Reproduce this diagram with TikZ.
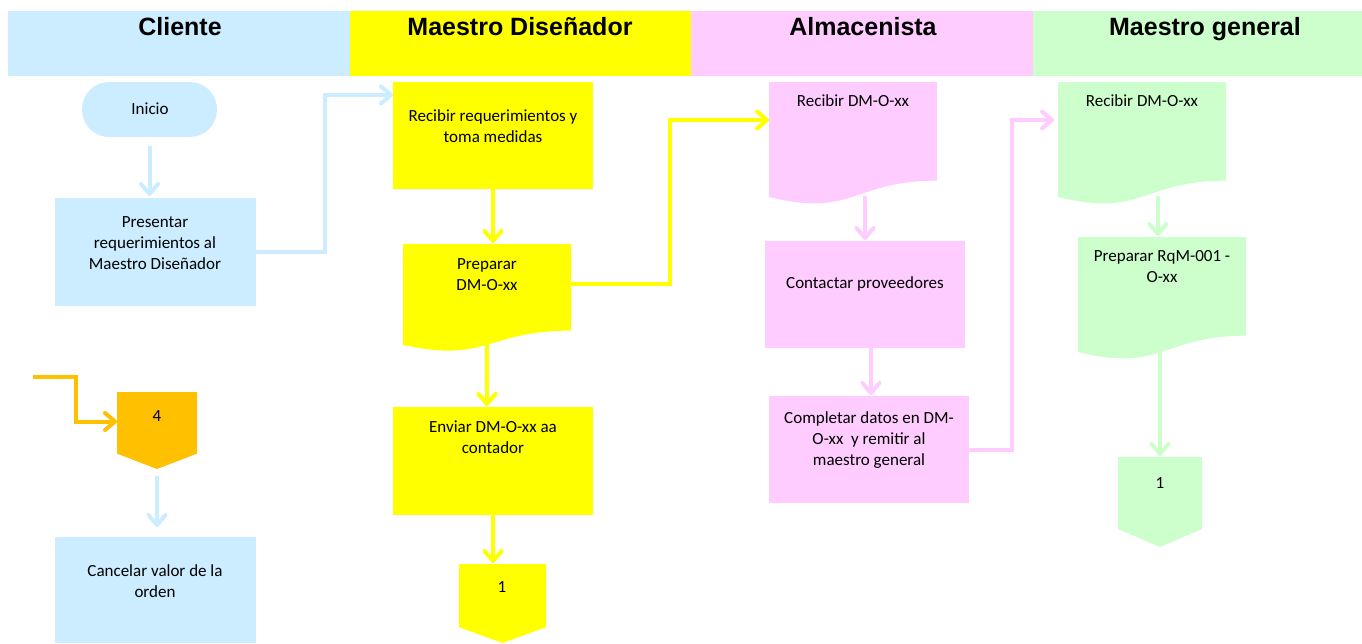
\documentclass[tikz,border=0pt]{standalone}
\usepackage{fontspec}
\setmainfont{Carlito}
\newfontfamily\headfont{Liberation Sans}
\usetikzlibrary{arrows.meta,calc,backgrounds}

\definecolor{laneblue}{HTML}{CCECFF}
\definecolor{laneyellow}{HTML}{FFFF00}
\definecolor{lanepink}{HTML}{FFCCFF}
\definecolor{lanegreen}{HTML}{CCFFCC}
\definecolor{flowOrange}{HTML}{FFC000}

\tikzset{
  every node/.style={inner sep=0pt, outer sep=0pt},
  lanehead/.style={rectangle, anchor=north west, minimum height=65pt},
  headtext/.style={anchor=base, font=\headfont\bfseries\fontsize{25}{30}\selectfont},
  procbox/.style={rectangle, draw=none},
  boxtext/.style={align=center, font=\fontsize{17}{21}\selectfont},
  flow/.style={line width=4pt, -{Straight Barb[length=10pt,width=17pt,round]}}
}

% filled flowchart "document" outline around an empty node
\newcommand\docfill[2]{%
  \fill[#2] (#1.north west) -- (#1.north east)
    -- ($(#1.north east)!0.802!(#1.south east)$)
    .. controls ($(#1.north)!0.802!(#1.south)$) and ($(#1.north)!1.107!(#1.south)$)
    .. ($(#1.north west)!0.934!(#1.south west)$) -- cycle;}
% filled off-page connector outline around an empty node
\newcommand\offpagefill[2]{%
  \fill[#2] (#1.north west) -- (#1.north east)
    -- ($(#1.north east)!0.8!(#1.south east)$) -- (#1.south)
    -- ($(#1.north west)!0.8!(#1.south west)$) -- cycle;}

\begin{document}
\begin{tikzpicture}[x=1pt,y=-1pt]
\useasboundingbox (0,0) rectangle (1362,643);

% swimlane headers
\node[lanehead, fill=laneblue,   minimum width=342pt] (laneCli) at (8,11) {};
\node[lanehead, fill=laneyellow, minimum width=341pt] (laneDis) at (350,11) {};
\node[lanehead, fill=lanepink,   minimum width=342pt] (laneAlm) at (691,11) {};
\node[lanehead, fill=lanegreen,  minimum width=329pt] (laneGen) at (1033,11) {};
\node[headtext] (hCli) at (180,35) {Cliente};
\node[headtext] (hDis) at (520,35) {Maestro Diseñador};
\node[headtext] (hAlm) at (863,35) {Almacenista};
\node[headtext] (hGen) at (1205,35) {Maestro general};

% ---- Cliente
\node[procbox, fill=laneblue, rounded corners=27pt, minimum width=135pt, minimum height=55pt] (inicio) at (149.5,109.5) {};
\node[boxtext] (tInicio) at (150,109) {Inicio};
\node[procbox, fill=laneblue, minimum width=201pt, minimum height=108pt] (pres) at (155.5,252) {};
\node[boxtext] (tPres) at (155,243) {Presentar\\requerimientos al\\Maestro Diseñador};
\node[procbox, minimum width=80pt, minimum height=77pt] (conn4) at (157,430.5) {};
\node[procbox, fill=laneblue, minimum width=201pt, minimum height=106pt] (cancel) at (155.5,590) {};
\node[boxtext] (tCancel) at (155,581.5) {Cancelar valor de la\\orden};
\coordinate (orgIn) at (33,377);

% ---- Maestro Diseñador
\node[procbox, fill=laneyellow, minimum width=200pt, minimum height=107pt] (rec) at (493,135.5) {};
\node[boxtext] (tRec) at (493,126) {Recibir requerimientos y\\toma medidas};
\node[procbox, minimum width=168pt, minimum height=108pt] (prep) at (487,298) {};
\node[procbox, fill=laneyellow, minimum width=200pt, minimum height=108pt] (env) at (493,461) {};
\node[boxtext] (tEnv) at (493,437.5) {Enviar DM-O-xx aa\\contador};
\node[procbox, minimum width=87pt, minimum height=79pt] (conn1) at (502.5,603.5) {};

% ---- Almacenista
\node[procbox, minimum width=168pt, minimum height=123pt] (recA) at (853,143.5) {};
\node[procbox, fill=lanepink, minimum width=200pt, minimum height=107pt] (contact) at (865,294.5) {};
\node[boxtext] (tContact) at (865,284) {Contactar proveedores};
\node[procbox, fill=lanepink, minimum width=200pt, minimum height=107pt] (compl) at (869,449.5) {};
\node[boxtext] (tCompl) at (869,440) {Completar datos en DM-\\O-xx~ y remitir al\\maestro general};

% ---- Maestro general
\node[procbox, minimum width=168pt, minimum height=123pt] (recG) at (1142,143.5) {};
\node[procbox, minimum width=168pt, minimum height=123pt] (prepG) at (1162,298.5) {};
\node[procbox, minimum width=84pt, minimum height=90pt] (connG) at (1160,502) {};

% document and connector outlines behind their texts
\begin{scope}[on background layer]
  \offpagefill{conn4}{flowOrange}
  \docfill{prep}{laneyellow}
  \offpagefill{conn1}{laneyellow}
  \docfill{recA}{lanepink}
  \docfill{recG}{lanegreen}
  \docfill{prepG}{lanegreen}
  \offpagefill{connG}{lanegreen}
\end{scope}

\node[boxtext] (t4) at (157,416) {4};
\node[boxtext] (tPrep) at (487,274.5) {Preparar\\DM-O-xx};
\node[boxtext] (t1a) at (502,587) {1};
\node[boxtext] (tRecA) at (853,101) {Recibir DM-O-xx};
\node[boxtext] (tRecG) at (1142,101) {Recibir DM-O-xx};
\node[boxtext] (tPrepG) at (1162,266.5) {Preparar RqM-001 -\\O-xx};
\node[boxtext] (t1b) at (1160,483) {1};

% ---- connectors
\draw[flow, draw=laneblue, shorten <=9pt, shorten >=2pt] (inicio.south) -- (inicio.south |- pres.north);
\draw[flow, draw=laneblue] (pres.east) -- ++(69,0) |- ([yshift=-13pt]rec.north west);
\draw[flow, draw=laneblue, shorten <=7pt, shorten >=10pt] (conn4.south) -- (conn4.south |- cancel.north);
\draw[flow, draw=flowOrange] (orgIn) -- ++(43,0) |- ([yshift=9pt]conn4.west);

\draw[flow, draw=laneyellow, shorten >=1pt] (rec.south) -- (rec.south |- prep.north);
\draw[flow, draw=laneyellow] ([yshift=14pt]prep.east) -- ++(99,0) |- ([yshift=-38pt]recA.north west);
\coordinate (prepBot) at ($(prep.north)!0.93!(prep.south)$);
\draw[flow, draw=laneyellow, shorten >=1pt] (prepBot) -- (prepBot |- env.north);
\draw[flow, draw=laneyellow, shorten >=1pt] (env.south) -- (env.south |- conn1.north);

\coordinate (recABot) at ($(recA.north)!0.93!(recA.south)$);
\draw[flow, draw=lanepink, shorten >=1pt] (recABot -| contact.north) -- (contact.north);
\draw[flow, draw=lanepink, shorten >=1pt] ([xshift=6pt]contact.south) -- ([xshift=6pt]contact.south |- compl.north);
\draw[flow, draw=lanepink] (compl.east) -- ++(43,0) |- ([yshift=-38pt,xshift=-4pt]recG.north west);

\coordinate (recGBot) at ($(recG.north)!0.93!(recG.south)$);
\draw[flow, draw=lanegreen, shorten >=1pt] (recGBot -| 1158,0) -- (prepG.north -| 1158,0);
\coordinate (prepGBot) at ($(prepG.north)!0.93!(prepG.south)$);
\draw[flow, draw=lanegreen, shorten >=1pt] (prepGBot -| connG.north) -- (connG.north);
\end{tikzpicture}
\end{document}
